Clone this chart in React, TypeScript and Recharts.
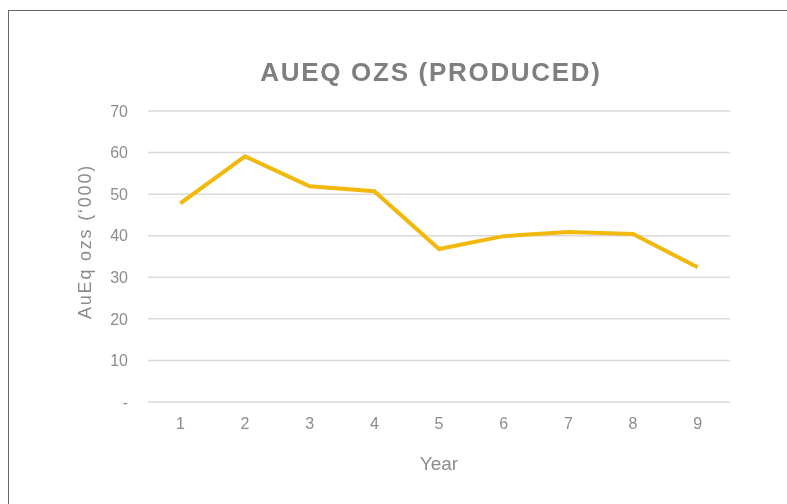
import { LineChart, Line, XAxis, YAxis, CartesianGrid } from "recharts";

const years = ["1", "2", "3", "4", "5", "6", "7", "8", "9"];
const ozsProduced = [47.8, 59.1, 51.9, 50.7, 36.8, 39.9, 40.9, 40.4, 32.4];
const yTicks = [0, 10, 20, 30, 40, 50, 60, 70];

const chartData = years.map((year, i) => ({ year, ozs: ozsProduced[i] }));

const gray = "#8c8c8c";
const sans = '"Liberation Sans", Arial, sans-serif';

export default function App() {
  return (
    <div style={{ position: "relative", width: 779, height: 496 }}>
      {/* frame: only top and left edges show in the crop */}
      <div
        style={{
          position: "fixed",
          left: 8,
          top: 10,
          width: 1200,
          height: 1200,
          borderTop: "1px solid #666",
          borderLeft: "1px solid #666",
          pointerEvents: "none",
        }}
      />
      <div
        style={{
          position: "absolute",
          left: 0,
          width: 846,
          top: 49,
          textAlign: "center",
          fontFamily: sans,
          fontWeight: "bold",
          fontSize: 26,
          letterSpacing: 1.7,
          color: "#7f7f7f",
        }}
      >
        AUEQ OZS (PRODUCED)
      </div>
      <LineChart
        width={779}
        height={496}
        data={chartData}
        margin={{ top: 103, right: 57, left: 80, bottom: 72 }}
        style={{ position: "absolute", left: 0, top: 0 }}
      >
        <CartesianGrid vertical={false} stroke="#d9d9d9" strokeWidth={1.5} />
        <XAxis
          dataKey="year"
          scale="band"
          axisLine={false}
          tickLine={false}
          tickSize={0}
          tickMargin={16}
          height={30}
          tick={{ fill: gray, fontSize: 16, fontFamily: sans }}
          label={{
            value: "Year",
            position: "insideBottom",
            offset: -38,
            fill: gray,
            fontSize: 19,
            fontFamily: sans,
          }}
        />
        <YAxis
          domain={[0, 70]}
          ticks={yTicks}
          width={60}
          axisLine={false}
          tickLine={false}
          tickSize={0}
          tickMargin={20}
          tickFormatter={(v: number) => (v === 0 ? "-" : String(v))}
          tick={{ fill: gray, fontSize: 16, fontFamily: sans }}
          label={{
            value: "AuEq ozs (‘000)",
            angle: -90,
            position: "insideLeft",
            dx: -8,
            dy: -15,
            fill: gray,
            fontSize: 18,
            letterSpacing: 1.8,
            style: { textAnchor: "middle" },
            fontFamily: sans,
          }}
        />
        <Line
          type="linear"
          dataKey="ozs"
          stroke="#F2B80C"
          strokeWidth={4}
          dot={false}
          activeDot={false}
          isAnimationActive={false}
        />
      </LineChart>
    </div>
  );
}
